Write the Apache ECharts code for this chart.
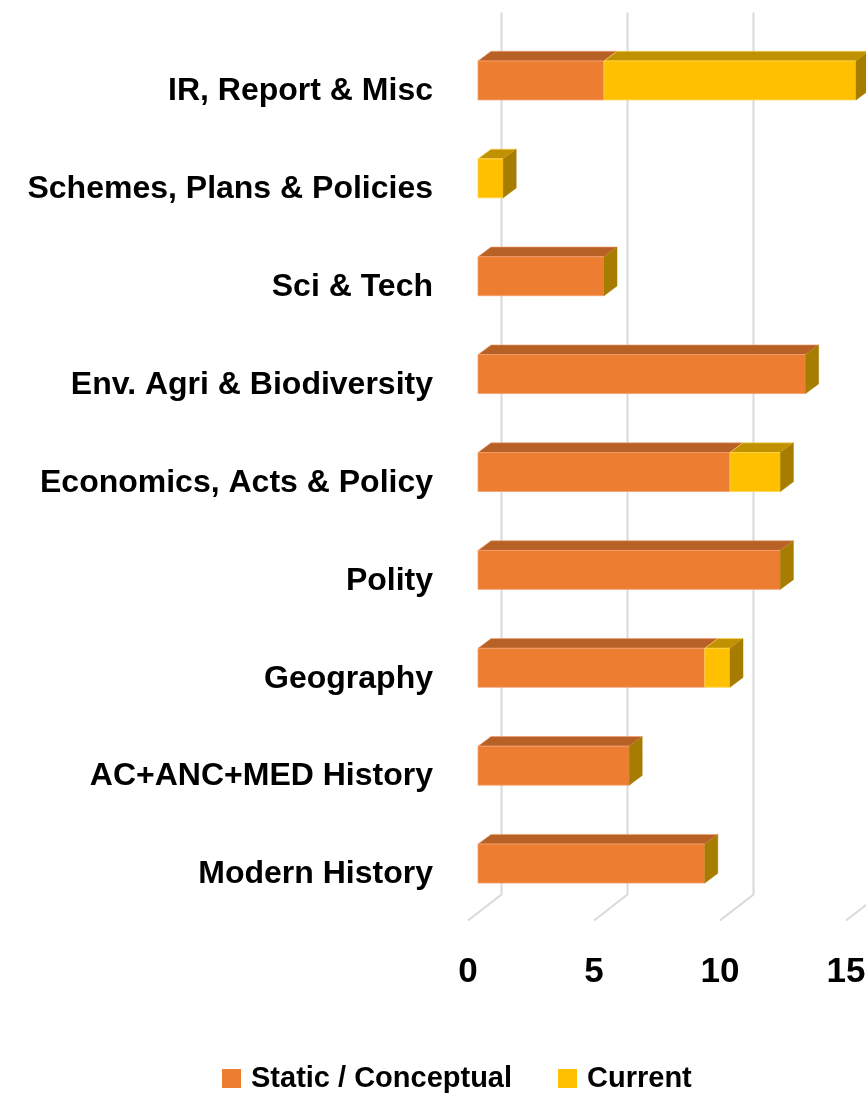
<!DOCTYPE html>
<html>
<head>
<meta charset="utf-8">
<script src="https://cdn.jsdelivr.net/npm/echarts@6/dist/echarts.min.js"></script>
<style>
  html, body { margin: 0; padding: 0; background: #ffffff; }
  #chart { width: 866px; height: 1096px; }
</style>
</head>
<body>
<div id="chart"></div>
<script>
// Topics, listed from the top row down
const categories = [
  'IR, Report & Misc',
  'Schemes, Plans & Policies',
  'Sci & Tech',
  'Env. Agri & Biodiversity',
  'Economics, Acts & Policy',
  'Polity',
  'Geography',
  'AC+ANC+MED History',
  'Modern History'
];
const staticValues  = [5, 0, 5, 13, 10, 12, 9, 6, 9];
const currentValues = [10, 1, 0, 0, 2, 0, 1, 0, 0];
const xTicks = [0, 5, 10, 15];
const seriesNames = ['Static / Conceptual', 'Current'];

const FONT = "'Liberation Sans', Arial, sans-serif";
const DX = 13, DY = 9.7;            // depth of the 3D bar faces
const BAR_RATIO = 0.398;            // bar thickness relative to the category band

const colors = {
  staticFront: '#ED7D31', staticTop: '#B86126', staticEdge: '#F3A070',
  currentFront: '#FFC000', currentTop: '#C09100', currentEdge: '#FFD54F',
  side: '#A67D00', grid: '#D9D9D9'
};

function box(x0, x1, yc, h, front, top, edge, drawSide) {
  const y0 = yc - h / 2;
  const kids = [];
  if (x1 - x0 > 0.01) {
    kids.push({
      type: 'polygon',
      shape: { points: [[x0, y0], [x0 + DX, y0 - DY], [x1 + DX, y0 - DY], [x1, y0]] },
      style: { fill: top, stroke: edge, lineWidth: 0.6 }
    });
    kids.push({
      type: 'rect',
      shape: { x: x0, y: y0, width: x1 - x0, height: h },
      style: { fill: front, stroke: edge, lineWidth: 0.8 }
    });
  }
  if (drawSide) {
    kids.push({
      type: 'polygon',
      shape: { points: [[x1, y0], [x1 + DX, y0 - DY], [x1 + DX, y0 + h - DY], [x1, y0 + h]] },
      style: { fill: colors.side, stroke: colors.side, lineWidth: 0.5 }
    });
  }
  return { type: 'group', children: kids };
}

const staticData = staticValues.map((v, i) => [v, i]);
const currentData = currentValues.map((v, i) => [staticValues[i], v, i]);
const gridData = xTicks.map(v => [v]);

const chart = echarts.init(document.getElementById('chart'), null, { renderer: 'canvas' });

chart.setOption({
  backgroundColor: '#ffffff',
  animation: false,
  grid: { left: 478, top: 31.5, width: 504, height: 881, outerBoundsMode: 'none', containLabel: false },
  xAxis: {
    type: 'value', min: 0, max: 20, interval: 5,
    axisLine: { show: false }, axisTick: { show: false }, splitLine: { show: false },
    axisLabel: {
      margin: 42, padding: [0, 20, 0, 0],
      fontFamily: FONT, fontWeight: 'bold', fontSize: 35, color: '#000'
    }
  },
  yAxis: {
    type: 'category', data: categories, inverse: true,
    axisLine: { show: false }, axisTick: { show: false }, splitLine: { show: false },
    axisLabel: {
      margin: 45, verticalAlign: 'top', lineHeight: 22,
      fontFamily: FONT, fontWeight: 'bold', fontSize: 32, color: '#000'
    }
  },
  legend: {
    data: seriesNames, left: 222, top: 1064, padding: 0,
    icon: 'rect', itemWidth: 19, itemHeight: 19, itemGap: 46,
    textStyle: { fontFamily: FONT, fontWeight: 'bold', fontSize: 29, color: '#000', padding: [0, 0, 0, 5] }
  },
  series: [
    {
      type: 'custom', name: 'floor', clip: false, silent: true, z: 1,
      data: gridData,
      renderItem(params, api) {
        const cs = params.coordSys;
        const xf = api.coord([api.value(0), 0])[0];
        const floorY = cs.y + cs.height - 18;
        return {
          type: 'polyline',
          shape: { points: [[xf + 23.5, cs.y - 19], [xf + 23.5, floorY], [xf - 10, floorY + 26]] },
          style: { stroke: colors.grid, lineWidth: 2, fill: null }
        };
      }
    },
    {
      type: 'custom', name: seriesNames[0], clip: false, z: 2,
      itemStyle: { color: colors.staticFront },
      encode: { x: 0, y: 1 },
      data: staticData,
      renderItem(params, api) {
        const c = api.value(1);
        const p0 = api.coord([0, c]);
        const p1 = api.coord([api.value(0), c]);
        const h = api.size([0, 1])[1] * BAR_RATIO;
        return box(p0[0], p1[0], p0[1], h, colors.staticFront, colors.staticTop, colors.staticEdge, false);
      }
    },
    {
      type: 'custom', name: seriesNames[1], clip: false, z: 3,
      itemStyle: { color: colors.currentFront },
      encode: { x: [0, 1], y: 2 },
      data: currentData,
      renderItem(params, api) {
        const c = api.value(2);
        const base = api.value(0);
        const p0 = api.coord([base, c]);
        const p1 = api.coord([base + api.value(1), c]);
        const h = api.size([0, 1])[1] * BAR_RATIO;
        return box(p0[0], p1[0], p0[1], h, colors.currentFront, colors.currentTop, colors.currentEdge, true);
      }
    }
  ]
});
</script>
</body>
</html>
